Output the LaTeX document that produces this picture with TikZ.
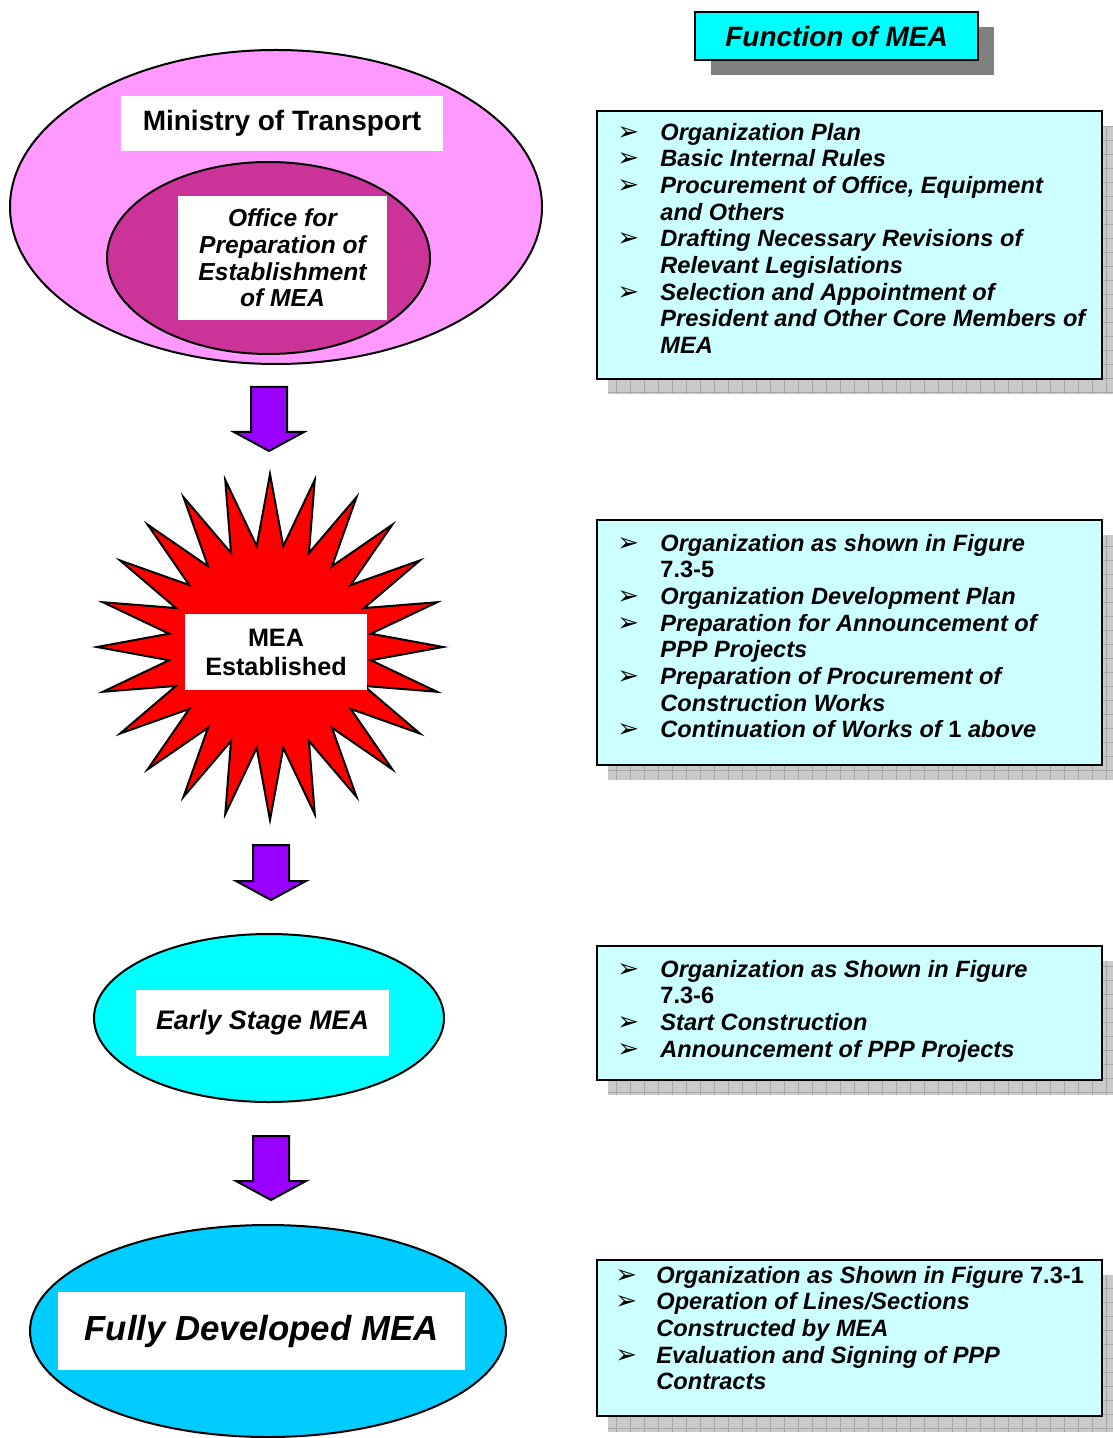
\documentclass[tikz,border=0pt]{standalone}
\usepackage{fontspec}
\setmainfont{Liberation Sans}
\newfontfamily\dingfont{DejaVu Sans}
\usetikzlibrary{shapes.geometric,positioning}

\definecolor{mtpink}{HTML}{FF99FF}
\definecolor{prepmagenta}{HTML}{CC3399}
\definecolor{arrowpurple}{HTML}{9900FF}
\definecolor{earlycyan}{HTML}{00FFFF}
\definecolor{fullblue}{HTML}{00CCFF}
\definecolor{listcyan}{HTML}{CCFFFF}
\definecolor{gridgray}{HTML}{CACACA}

% bullet of the function lists
\newcommand{\bul}{{\dingfont\fontsize{13}{10}\selectfont ➢}}

% purple block arrow: centre x, top y, tip y
\newcommand{\stagearrow}[3]{%
  \draw[fill=arrowpurple, line width=1pt, line join=miter]
    (#1-18,#2) -- (#1+18,#2) -- (#1+18,#3-19) -- (#1+35,#3-19)
    -- (#1,#3) -- (#1-35,#3-19) -- (#1-18,#3-19) -- cycle;}

% grey checked shadow behind a list box
\newcommand{\gridshadow}[4]{%
  \fill[gridgray] (#1,#2) rectangle (#3,#4);
  \begin{scope}
    \clip (#1,#2) rectangle (#3,#4);
    \draw[gray!70, line width=0.3pt, step=7pt] (#1,#2) grid (#3,#4);
  \end{scope}}

\tikzset{
  stage/.style={ellipse, draw, line width=1pt, inner sep=0pt},
  stagelabel/.style={fill=white, inner sep=0pt, align=center},
  listbox/.style={draw, line width=1pt, fill=listcyan, minimum width=252.5pt,
    anchor=north west, inner sep=0pt},
  listtext/.style={anchor=north west, inner sep=0pt,
    font=\fontsize{11.8}{13.35}\selectfont\bfseries\itshape},
}

\begin{document}
\begin{tikzpicture}[x=0.5pt,y=-0.5pt]
  \useasboundingbox (0,0) rectangle (1112,1438);

  % stages on the left
  \node[stage, fill=mtpink, minimum width=266pt, minimum height=157pt] (ministry) at (276,207) {};
  \node[stagelabel, minimum width=161pt, minimum height=27.5pt,
        font=\fontsize{14}{16}\selectfont\bfseries] (ministrytext) at (282,123.5) {Ministry of Transport};
  \node[stage, fill=prepmagenta, minimum width=161.5pt, minimum height=96pt] (prep) at (268.5,258) {};
  \node[stagelabel, minimum width=104.5pt, minimum height=62pt,
        font=\fontsize{12.3}{13.3}\selectfont\bfseries\itshape] (preptext) at (282.5,258)
        {Office for\\Preparation of\\Establishment\\of MEA};

  \stagearrow{269}{387}{451}

  \node[star, star points=24, star point ratio=1.7, draw, line width=1pt, fill=red,
        minimum size=173pt, inner sep=0pt] (established) at (270,647) {};
  \node[stagelabel, minimum width=91pt, minimum height=38pt,
        font=\fontsize{12.6}{14.5}\selectfont\bfseries] (establishedtext) at (276,652)
        {MEA\\Established};

  \stagearrow{271}{845}{900}

  \node[stage, fill=earlycyan, minimum width=175pt, minimum height=84pt] (early) at (269,1018) {};
  \node[stagelabel, minimum width=126.5pt, minimum height=33pt,
        font=\fontsize{13.4}{15}\selectfont\bfseries\itshape] (earlytext) at (262.5,1023) {Early Stage MEA};

  \stagearrow{271}{1136}{1200}

  \node[stage, fill=fullblue, minimum width=238pt, minimum height=106pt] (full) at (268,1331) {};
  \node[stagelabel, minimum width=203.5pt, minimum height=39pt,
        font=\fontsize{17.4}{20}\selectfont\bfseries\itshape] (fulltext) at (261.5,1331) {Fully Developed MEA};

  % heading of the function column
  \fill[gray] (711,27) rectangle (994,75);
  \node[draw, line width=1pt, fill=earlycyan, minimum width=141.5pt, minimum height=24pt,
        inner sep=0pt, font=\fontsize{14}{16}\selectfont\bfseries\itshape] (title) at (836.5,36) {Function of MEA};

  % function lists
  \gridshadow{608}{126}{1113}{394}
  \node[listbox, minimum height=134pt] (fn1) at (596,110) {};
  \node[listtext, below right=5.5pt and 10.5pt of fn1.north west] (fn1text) {%
    \begin{tabular}{@{}p{21.5pt}@{}l@{}}
      \bul & Organization Plan\\
      \bul & Basic Internal Rules\\
      \bul & Procurement of Office, Equipment\\
           & and Others\\
      \bul & Drafting Necessary Revisions of\\
           & Relevant Legislations\\
      \bul & Selection and Appointment of\\
           & President and Other Core Members of\\
           & MEA
    \end{tabular}};

  \gridshadow{608}{535}{1113}{780}
  \node[listbox, minimum height=122.5pt] (fn2) at (596,519) {};
  \node[listtext, below right=6.5pt and 10.5pt of fn2.north west] (fn2text) {%
    \begin{tabular}{@{}p{21.5pt}@{}l@{}}
      \bul & Organization as shown in Figure\\
           & {\upshape 7.3-5}\\
      \bul & Organization Development Plan\\
      \bul & Preparation for Announcement of\\
           & PPP Projects\\
      \bul & Preparation of Procurement of\\
           & Construction Works\\
      \bul & Continuation of Works of {\upshape 1} above
    \end{tabular}};

  \gridshadow{608}{961}{1113}{1095}
  \node[listbox, minimum height=67pt] (fn3) at (596,945) {};
  \node[listtext, below right=6.5pt and 10.5pt of fn3.north west] (fn3text) {%
    \begin{tabular}{@{}p{21.5pt}@{}l@{}}
      \bul & Organization as Shown in Figure\\
           & {\upshape 7.3-6}\\
      \bul & Start Construction\\
      \bul & Announcement of PPP Projects
    \end{tabular}};

  \gridshadow{608}{1275}{1113}{1432}
  \node[listbox, minimum height=78pt] (fn4) at (596,1259) {};
  \node[listtext, below right=2.5pt and 9.5pt of fn4.north west] (fn4text) {%
    \begin{tabular}{@{}p{20.5pt}@{}l@{}}
      \bul & Organization as Shown in Figure {\upshape 7.3-1}\\
      \bul & Operation of Lines/Sections\\
           & Constructed by MEA\\
      \bul & Evaluation and Signing of PPP\\
           & Contracts
    \end{tabular}};
\end{tikzpicture}
\end{document}
